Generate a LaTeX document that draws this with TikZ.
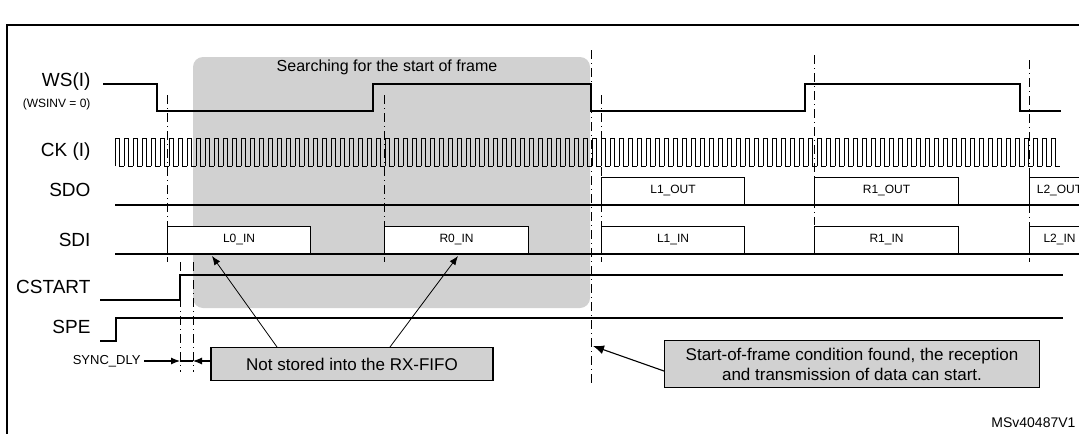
\documentclass[tikz,border=0pt]{standalone}
\usepackage{fontspec}
\setmainfont{Liberation Sans}
\usetikzlibrary{arrows.meta}
\tikzset{
    sig/.style = {line width=1.1pt},
    framemark/.style = {line width=0.9pt, dash pattern=on 9pt off 4pt on 1pt off 4pt},
    siglabel/.style = {anchor=east, font=\fontsize{19}{19}\selectfont},
    slot/.style = {draw, line width=1.1pt, fill=white, anchor=south west, inner sep=0pt,
        minimum height=27pt, font=\fontsize{12}{12}\selectfont},
    note/.style = {draw, line width=1.1pt, fill=black!18, align=center,
        font=\fontsize{17}{20}\selectfont, inner sep=3pt}
}
\begin{document}
\begin{tikzpicture}[x=1pt, y=-1pt]
        \useasboundingbox (0, 0) rectangle (1079, 434);
        % frame
        \draw [line width=1.5pt] (1079, 25) -- (7, 25) -- (7, 434);
        \fill [black!18, rounded corners=10pt] (193, 57) rectangle (590, 308);
        \node (search) at (387, 67) {\fontsize{16}{16}\selectfont Searching for the start of frame};
        % labels
        \node [siglabel] (ws) at (94, 82) {WS(I)};
        \node [siglabel, font=\fontsize{12}{12}\selectfont] (wsinv) at (94, 104) {(WSINV = 0)};
        \node [siglabel] (ck) at (94, 152) {CK (I)};
        \node [siglabel] (sdo) at (94, 190) {SDO};
        \node [siglabel] (sdi) at (94, 240) {SDI};
        \node [siglabel] (cstart) at (94, 287) {CSTART};
        \node [siglabel] (spe) at (94, 327) {SPE};
        % frame marks
        \foreach \x/\a/\b in {167/95/262, 384/95/262, 601/95/262, 814/55/225, 1029/60/262, 180/262/372, 193/262/372}
            \draw [framemark] (\x, \a) -- (\x, \b);
        \draw [framemark] (591, 50) -- (591, 385);
        % WS
        \draw [sig] (103, 84) -- (157, 84) -- (157, 111) -- (373, 111) -- (373, 84) -- (591, 84)
            -- (591, 111) -- (805, 111) -- (805, 84) -- (1020, 84) -- (1020, 111) -- (1061, 111);
        % CK
        \foreach \i in {0,...,104}
            \draw [line width=0.8pt] (115+9*\i, 166) -- ++(0, -28) -- ++(4.5, 0) -- ++(0, 28) -- ++(4.5, 0);
        % SDO / SDI
        \draw [sig] (115, 205) -- (1079, 205);
        \draw [sig] (115, 254) -- (1079, 254);
        \node [slot, minimum width=143pt] (l1out) at (601, 205) {L1\_OUT};
        \node [slot, minimum width=144pt] (r1out) at (814, 205) {R1\_OUT};
        \node [slot, minimum width=60pt] (l2out) at (1029, 205) {L2\_OUT};
        \node [slot, minimum width=143pt] (l0in) at (167, 254) {L0\_IN};
        \node [slot, minimum width=144pt] (r0in) at (384, 254) {R0\_IN};
        \node [slot, minimum width=143pt] (l1in) at (601, 254) {L1\_IN};
        \node [slot, minimum width=144pt] (r1in) at (814, 254) {R1\_IN};
        \node [slot, minimum width=60pt] (l2in) at (1029, 254) {L2\_IN};
        % CSTART / SPE
        \draw [sig] (100, 300) -- (180, 300) -- (180, 275) -- (1063, 275);
        \draw [sig] (100, 341) -- (116, 341) -- (116, 318) -- (1063, 318);
        % sync delay
        \node [anchor=east, font=\fontsize{13}{13}\selectfont] (sync) at (144, 361) {SYNC\_DLY};
        \coordinate (d0) at (180, 361);
        \coordinate (d1) at (193, 361);
        \draw [sig, -{Latex[length=9pt, width=7pt]}] (sync) -- (d0);
        \draw [sig, -{Latex[length=9pt, width=7pt]}] (217, 361) -- (d1);
        \draw [sig] (d0) -- (d1);
        % notes
        \node [note, minimum width=282pt, minimum height=33pt] (nostore) at (352, 364) {Not stored into the RX-FIFO};
        \draw [line width=0.8pt, -{Latex[length=9pt, width=7pt]}] (277, 347) -- (212, 256);
        \draw [line width=0.8pt, -{Latex[length=9pt, width=7pt]}] (390, 347) -- (458, 256);
        \node [note, minimum width=375pt, minimum height=47pt, inner sep=1pt] (sof) at (852, 364)
            {Start-of-frame condition found, the reception\\ and transmission of data can start.};
        \coordinate (sofmark) at (593, 346);
        \draw [sig, -{Latex[length=11pt, width=9pt]}] (sof.west |- 0, 371) -- (sofmark);
        \node [anchor=east, font=\fontsize{14}{14}\selectfont] (ref) at (1079, 423) {MSv40487V1};
\end{tikzpicture}
\end{document}
